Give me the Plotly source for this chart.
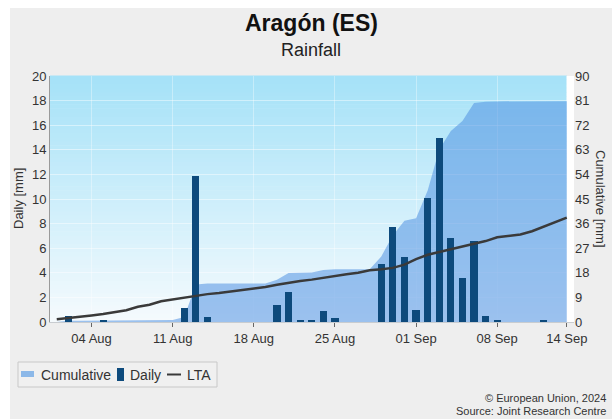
import numpy as np
import pandas as pd
import plotly.graph_objects as go

# Daily rainfall, Aragón (ES), 1 Aug - 14 Sep 2024
dates = pd.date_range("2024-08-01", "2024-09-14", freq="D")

daily_mm = [
    0.0, 0.5, 0.0, 0.0, 0.2, 0.0, 0.0, 0.0, 0.0, 0.0,   # 01-10 Aug
    0.0, 1.1, 11.9, 0.4, 0.0, 0.0, 0.0, 0.0, 0.0, 1.4,  # 11-20 Aug
    2.4, 0.1, 0.1, 0.9, 0.3, 0.0, 0.0, 0.0, 4.7, 7.7,   # 21-30 Aug
    5.3,                                                 # 31 Aug
    1.0, 10.1, 15.0, 6.8, 3.6, 6.6, 0.5, 0.1, 0.0, 0.0,  # 01-10 Sep
    0.0, 0.1, 0.0, 0.0,                                  # 11-14 Sep
]

# Long-term average of cumulative rainfall (mm)
lta_mm = [
    1.0, 1.4, 1.9, 2.4, 2.9, 3.5, 4.3, 5.6, 6.3, 7.6,
    8.3, 8.8, 9.5, 10.2, 10.6, 11.1, 11.7, 12.3, 12.8, 13.6,
    14.4, 15.0, 15.5, 16.2, 16.8, 17.5, 18.0, 18.9, 19.3, 19.8,
    21.0,
    23.0, 24.6, 25.6, 26.6, 27.6, 28.4, 29.6, 31.0, 31.6, 32.0,
    33.2, 34.8, 36.6, 38.2,
]

cumulative_mm = np.cumsum(daily_mm)

tick_dates = ["2024-08-04", "2024-08-11", "2024-08-18", "2024-08-25",
              "2024-09-01", "2024-09-08", "2024-09-14"]
tick_labels = ["04 Aug", "11 Aug", "18 Aug", "25 Aug", "01 Sep", "08 Sep", "14 Sep"]
daily_ticks = list(range(0, 21, 2))
cum_ticks = list(range(0, 91, 9))

FONT = "Liberation Sans, Arial, sans-serif"
X_START, X_END = "2024-07-31 10:00", "2024-09-14 15:00"
CUM_FILL = "rgba(80,145,225,0.55)"
BAR_COLOR = "#0d4a7c"
LTA_COLOR = "#3a3a3a"

# margins in pixels, used to place items outside the plot area
ML, MR, MT, MB = 50, 38, 76, 97
PW, PH = 612 - ML - MR, 419 - MT - MB


def px(x):
    return (x - ML) / PW


def py(y):
    return (MT + PH - y) / PH


fig = go.Figure()

fig.add_trace(go.Scatter(
    x=dates, y=cumulative_mm, name="Cumulative", yaxis="y",
    mode="lines", line=dict(width=0, color=CUM_FILL),
    fill="tozeroy", fillcolor=CUM_FILL,
))
fig.add_trace(go.Bar(
    x=dates, y=daily_mm, name="Daily", yaxis="y2",
    marker=dict(color=BAR_COLOR, line=dict(width=0)),
    width=0.62 * 86400000,
))
fig.add_trace(go.Scatter(
    x=dates, y=lta_mm, name="LTA", yaxis="y3",
    mode="lines", line=dict(color=LTA_COLOR, width=2.5),
))

# vertical gradient behind the data
shapes = []
n_steps = 60
top = np.array([165, 226, 248])
bottom = np.array([246, 251, 254])
for i in range(n_steps):
    t = (i + 0.5) / n_steps
    c = bottom + (top - bottom) * t
    shapes.append(dict(
        type="rect", xref="x", yref="y domain", layer="below",
        x0=X_START, x1="2024-09-14", y0=i / n_steps, y1=(i + 1) / n_steps + 0.002,
        fillcolor=f"rgb({int(c[0])},{int(c[1])},{int(c[2])})", line=dict(width=0),
    ))

# white page margins at top and left
shapes.append(dict(type="rect", xref="paper", yref="paper", layer="below",
                   x0=px(-20), x1=px(640), y0=py(8), y1=py(-20),
                   fillcolor="white", line=dict(width=0)))
shapes.append(dict(type="rect", xref="paper", yref="paper", layer="below",
                   x0=px(-20), x1=px(10), y0=py(440), y1=py(-20),
                   fillcolor="white", line=dict(width=0)))

# legend box and symbols
shapes += [
    dict(type="rect", xref="paper", yref="paper", x0=px(18), x1=px(217), y0=py(387), y1=py(362),
         fillcolor="#f0f0f0", line=dict(color="#c8c8c8", width=1)),
    dict(type="rect", xref="paper", yref="paper", x0=px(21), x1=px(34), y0=py(377), y1=py(371),
         fillcolor="#8cb8e8", line=dict(width=0)),
    dict(type="rect", xref="paper", yref="paper", x0=px(117), x1=px(124), y0=py(381), y1=py(368),
         fillcolor=BAR_COLOR, line=dict(width=0)),
    dict(type="line", xref="paper", yref="paper", x0=px(167), x1=px(181), y0=py(374.5), y1=py(374.5),
         line=dict(color=LTA_COLOR, width=2)),
]


def note(text, x, y, size, color="#333", xanchor="center", angle=0):
    return dict(text=text, xref="paper", yref="paper", x=px(x), y=py(y),
                xanchor=xanchor, yanchor="middle", textangle=angle, showarrow=False,
                font=dict(size=size, color=color, family=FONT))


annotations = [
    note("<b>Aragón (ES)</b>", 311, 23, 23, "#111"),
    note("Rainfall", 311, 50, 18, "#222"),
    note("Daily [mm]", 18, 199, 13, angle=-90),
    note("Cumulative [mm]", 601, 199, 13, angle=90),
    note("Cumulative", 39, 374.5, 14, xanchor="left"),
    note("Daily", 128, 374.5, 14, xanchor="left"),
    note("LTA", 185, 374.5, 14, xanchor="left"),
    note("© European Union, 2024", 608, 398, 11, xanchor="right"),
    note("Source: Joint Research Centre", 608, 411, 11, xanchor="right"),
]

fig.update_layout(
    width=612, height=419,
    margin=dict(l=ML, r=MR, t=MT, b=MB),
    paper_bgcolor="#eeeeee", plot_bgcolor="white",
    font=dict(family=FONT, size=13, color="#333"),
    showlegend=False,
    bargap=0,
    xaxis=dict(type="date", range=[X_START, X_END],
               tickvals=tick_dates, ticktext=tick_labels,
               ticks="outside", ticklen=4, tickcolor="#666",
               showgrid=True, gridcolor="rgba(255,255,255,0.35)",
               showline=True, linecolor="#c8ccd0", zeroline=False,
               tickfont=dict(size=13, color="#333")),
    yaxis=dict(side="right", range=[0, 90], tickvals=cum_ticks,
               showgrid=True, gridcolor="rgba(255,255,255,0.45)",
               zeroline=False, showline=False, ticks="",
               tickfont=dict(size=13, color="#333")),
    yaxis2=dict(side="left", overlaying="y", range=[0, 20], tickvals=daily_ticks,
                showgrid=False, zeroline=False, showline=True, linecolor="#9a9a9a",
                ticks="", tickfont=dict(size=13, color="#333")),
    yaxis3=dict(overlaying="y", range=[0, 90], visible=False),
    shapes=shapes,
    annotations=annotations,
)

fig.write_html("out.html")
